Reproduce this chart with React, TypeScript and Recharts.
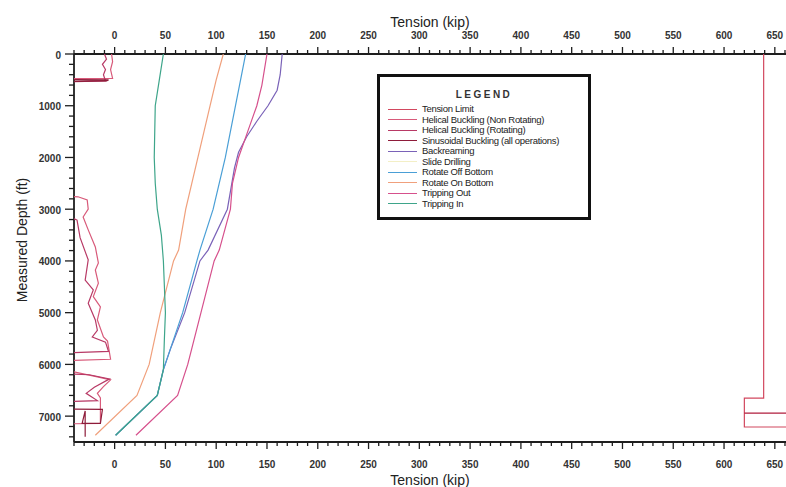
import React from "react"
import { ScatterChart, Scatter, XAxis, YAxis } from "recharts"

// legend entries (order as in the reference box)
const SERIES_NAMES = [
  "Tension Limit",
  "Helical Buckling (Non Rotating)",
  "Helical Buckling (Rotating)",
  "Sinusoidal Buckling (all operations)",
  "Backreaming",
  "Slide Drilling",
  "Rotate Off Bottom",
  "Rotate On Bottom",
  "Tripping Out",
  "Tripping In",
]
const SERIES_COLORS = [
  "#d2485f",
  "#d85a7a",
  "#b83a66",
  "#8e1c3a",
  "#7a62b8",
  "#f3efc6",
  "#4a9fd6",
  "#f0a07c",
  "#d6508c",
  "#3ea58a",
]

// axis ticks
const X_TICKS = Array.from({ length: 71 }, (_, i) => -40 + i * 10)
const Y_TICKS = Array.from({ length: 38 }, (_, i) => i * 200)

// tension (kip) / measured depth (ft) per curve
const tensionLimitKip = [639, 639, 620, 620, 662]
const tensionLimitFt = [0, 6650, 6650, 7210, 7210]
const tensionLimitBarKip = [620, 662]
const tensionLimitBarFt = [6940, 6940]

const helicalNonRotKip = [-3, -2, -4, -2, -50, -50, -36, -27, -26, -31, -26, -19, -16, -19, -16, -21, -14, -17, -11, -7, -4, -50, -50, -17, -4, -11, -17, -14, -14, -50]
const helicalNonRotFt = [0, 150, 300, 470, 480, 2750, 2760, 2820, 3000, 3150, 3400, 3730, 4040, 4175, 4430, 4690, 4890, 5140, 5470, 5550, 5900, 5930, 6100, 6240, 6300, 6430, 6560, 6650, 7140, 7150]

const helicalRotKip = [-10, -8, -12, -9, -11, -9, -50, -50, -37, -34, -26, -29, -21, -26, -19, -17, -22, -9, -6, -50, -50, -25, -5, -20, -28, -17, -50]
const helicalRotFt = [0, 100, 200, 300, 400, 520, 540, 3100, 3210, 3550, 3980, 4370, 4560, 4820, 5140, 5340, 5470, 5570, 5750, 5780, 6180, 6200, 6280, 6440, 6560, 6700, 6720]

const sinusoidalKip = [-50, -50, -6, -8, -50, -50, -12, -14, -32, -29, -29]
const sinusoidalFt = [0, 495, 500, 520, 530, 6860, 6870, 7140, 7140, 6900, 7400]

const backreamingKip = [165, 163, 160, 151, 140, 130, 122, 118, 111, 92, 84, 69, 55, 48, 42, 1]
const backreamingFt = [0, 400, 700, 1000, 1300, 1600, 1900, 2200, 3000, 3790, 4000, 5000, 5700, 6100, 6600, 7370]

const rotateOffKip = [129, 124, 119, 109, 97, 84, 81, 67, 48, 42, 1]
const rotateOffFt = [0, 500, 1000, 2000, 3000, 3790, 4000, 5000, 6100, 6600, 7370]

const rotateOnKip = [107, 100, 94, 82, 70, 63, 58, 45, 34, 22, -19]
const rotateOnFt = [0, 500, 1000, 2000, 3000, 3790, 4000, 5000, 6000, 6600, 7370]

const trippingOutKip = [150, 145, 140, 131, 122, 116, 114, 103, 98, 85, 72, 62, 21]
const trippingOutFt = [0, 600, 1000, 1500, 2000, 2500, 3000, 3790, 4000, 5000, 6000, 6600, 7370]

const trippingInKip = [48, 44, 40, 39, 40, 42, 46, 48, 49, 50, 49, 48, 42, 1]
const trippingInFt = [0, 500, 1000, 2000, 2500, 3000, 3500, 4000, 4500, 5000, 5500, 6100, 6600, 7370]

const pts = (xs: number[], ys: number[]) => xs.map((x, i) => ({ x, y: ys[i] }))

const CURVES = [
  { id: "tl", data: pts(tensionLimitKip, tensionLimitFt), color: SERIES_COLORS[0], axis: "top" },
  { id: "tlb", data: pts(tensionLimitBarKip, tensionLimitBarFt), color: "#b01c3c", axis: "top" },
  { id: "hnr", data: pts(helicalNonRotKip, helicalNonRotFt), color: SERIES_COLORS[1], axis: "top" },
  { id: "hr", data: pts(helicalRotKip, helicalRotFt), color: SERIES_COLORS[2], axis: "top" },
  { id: "sin", data: pts(sinusoidalKip, sinusoidalFt), color: SERIES_COLORS[3], axis: "top" },
  { id: "br", data: pts(backreamingKip, backreamingFt), color: SERIES_COLORS[4], axis: "bottom" },
  { id: "rof", data: pts(rotateOffKip, rotateOffFt), color: SERIES_COLORS[6], axis: "bottom" },
  { id: "ron", data: pts(rotateOnKip, rotateOnFt), color: SERIES_COLORS[7], axis: "bottom" },
  { id: "to", data: pts(trippingOutKip, trippingOutFt), color: SERIES_COLORS[8], axis: "bottom" },
  { id: "ti", data: pts(trippingInKip, trippingInFt), color: SERIES_COLORS[9], axis: "bottom" },
]

const FONT = "'Liberation Sans', Arial, sans-serif"
const AXIS_STROKE = "#1e1e1e"

const noDot = () => <g />

function XTick(props: any) {
  const { x, y, payload, side } = props
  const major = payload.value % 50 === 0
  const dir = side === "top" ? -1 : 1
  const len = major ? 7 : 4
  return (
    <g>
      <line x1={x} y1={y} x2={x} y2={y + dir * len} stroke={AXIS_STROKE} strokeWidth={1.3} />
      {major && payload.value >= 0 && (
        <text
          x={x}
          y={y + dir * (side === "top" ? 19 : 22)}
          textAnchor="middle"
          dominantBaseline="central"
          fontSize={10}
          fontWeight={700}
          fontFamily={FONT}
          fill="#333"
        >
          {payload.value}
        </text>
      )}
    </g>
  )
}

function YTick(props: any) {
  const { x, y, payload } = props
  const major = payload.value % 1000 === 0
  return (
    <g>
      <line x1={x} y1={y} x2={x - (major ? 9 : 5)} y2={y} stroke={AXIS_STROKE} strokeWidth={1.3} />
      {major && (
        <text
          x={x - 13}
          y={y + 1}
          textAnchor="end"
          dominantBaseline="central"
          fontSize={10}
          fontWeight={700}
          fontFamily={FONT}
          fill="#333"
        >
          {payload.value}
        </text>
      )}
    </g>
  )
}

const xTitle = (baselineOffset: number) => (props: any) => {
  const vb = props.viewBox
  return (
    <text
      x={vb.x + vb.width / 2}
      y={vb.y + baselineOffset}
      textAnchor="middle"
      fontSize={14}
      fontFamily={FONT}
      fill="#222"
    >
      Tension (kip)
    </text>
  )
}

const yTitle = (props: any) => {
  const vb = props.viewBox
  const cx = vb.x + 22
  const cy = vb.y + vb.height / 2 - 8
  return (
    <text
      x={cx}
      y={cy}
      transform={`rotate(-90 ${cx} ${cy})`}
      textAnchor="middle"
      dominantBaseline="central"
      fontSize={14}
      fontFamily={FONT}
      fill="#222"
    >
      Measured Depth (ft)
    </text>
  )
}

function LegendBox() {
  return (
    <div
      style={{
        position: "absolute",
        left: 377,
        top: 74,
        width: 208,
        border: "3px solid #111",
        background: "#fff",
        fontFamily: FONT,
        color: "#222",
        paddingTop: 12,
        paddingBottom: 8,
      }}
    >
      <div
        style={{
          textAlign: "center",
          fontSize: 10,
          fontWeight: 700,
          letterSpacing: 2.5,
          lineHeight: "12px",
          marginBottom: 3,
          color: "#333",
        }}
      >
        LEGEND
      </div>
      {SERIES_NAMES.map((name, i) => (
        <div key={name} style={{ display: "flex", alignItems: "center", height: 10.5, paddingLeft: 8 }}>
          <div style={{ width: 29, borderTop: `1.3px solid ${SERIES_COLORS[i]}`, marginRight: 5 }} />
          <span style={{ fontSize: 9.5, lineHeight: "10.5px", whiteSpace: "nowrap", letterSpacing: -0.3 }}>{name}</span>
        </div>
      ))}
    </div>
  )
}

export default function App() {
  return (
    <div style={{ position: "absolute", left: 0, top: 0, width: 786, height: 487, background: "#fff" }}>
      <ScatterChart width={786} height={487} margin={{ top: 0, right: 0, bottom: 0, left: 0 }}>
        <XAxis
          xAxisId="top"
          orientation="top"
          type="number"
          dataKey="x"
          domain={[-40, 661]}
          ticks={X_TICKS}
          interval={0}
          allowDataOverflow
          height={54}
          tickSize={0}
          tickMargin={0}
          tickLine={false}
          axisLine={{ stroke: AXIS_STROKE, strokeWidth: 1.8 }}
          tick={(p: any) => <XTick {...p} side="top" />}
          label={xTitle(27)}
        />
        <XAxis
          xAxisId="bottom"
          orientation="bottom"
          type="number"
          dataKey="x"
          domain={[-40, 661]}
          ticks={X_TICKS}
          interval={0}
          allowDataOverflow
          height={45}
          tickSize={0}
          tickMargin={0}
          tickLine={false}
          axisLine={{ stroke: AXIS_STROKE, strokeWidth: 1.8 }}
          tick={(p: any) => <XTick {...p} side="bottom" />}
          label={xTitle(43)}
        />
        <YAxis
          yAxisId="d"
          type="number"
          dataKey="y"
          domain={[0, 7500]}
          reversed
          ticks={Y_TICKS}
          interval={0}
          allowDataOverflow
          width={74}
          tickSize={0}
          tickMargin={0}
          tickLine={false}
          axisLine={{ stroke: AXIS_STROKE, strokeWidth: 1.8 }}
          tick={(p: any) => <YTick {...p} />}
          label={yTitle}
        />
        {CURVES.map((c) => (
          <Scatter
            key={c.id}
            data={c.data}
            xAxisId={c.axis}
            yAxisId="d"
            fill={c.color}
            line={{ stroke: c.color, strokeWidth: 1.2 }}
            lineType="joint"
            shape={noDot}
            legendType="none"
            isAnimationActive={false}
          />
        ))}
      </ScatterChart>
      <LegendBox />
    </div>
  )
}
